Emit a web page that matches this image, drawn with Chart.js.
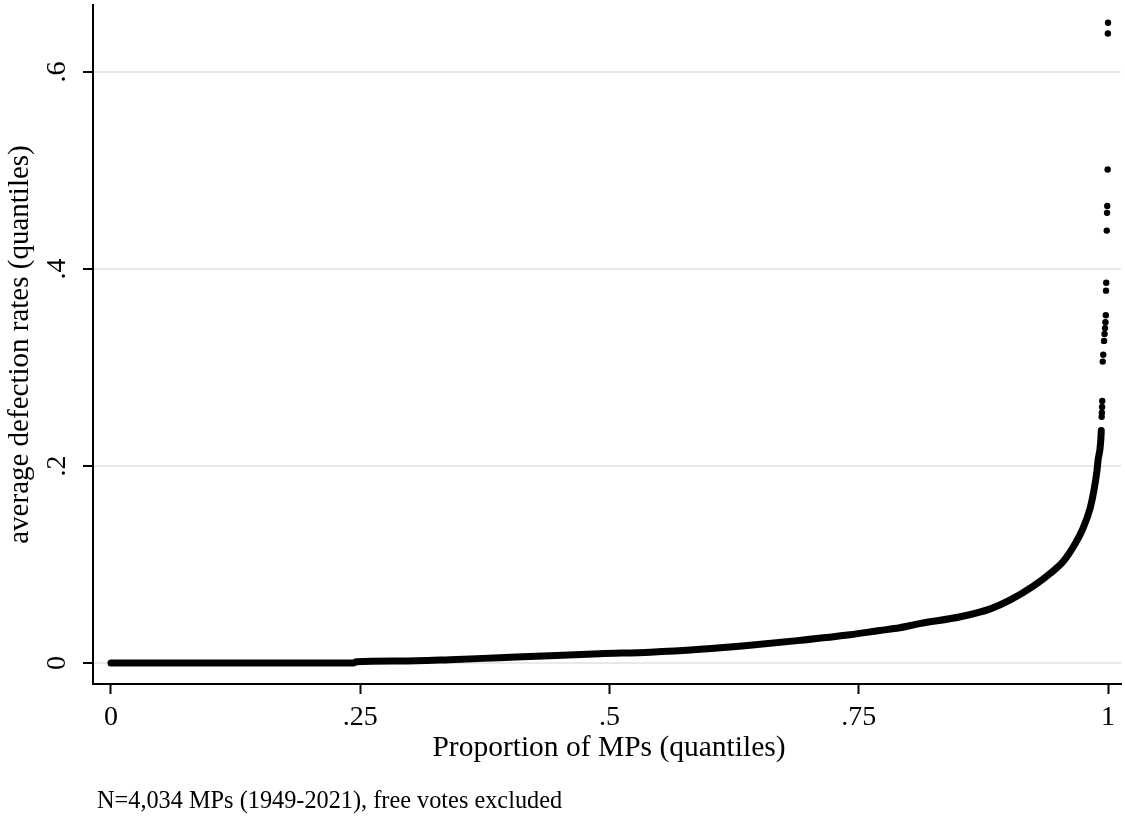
<!DOCTYPE html>
<html>
<head>
<meta charset="utf-8">
<title>Average defection rates by MP quantile</title>
<script src="https://cdn.jsdelivr.net/npm/chart.js@4/dist/chart.umd.min.js"></script>
<style>
  html, body { margin: 0; padding: 0; background: #ffffff; }
  #wrap { width: 1125px; height: 816px; }
</style>
</head>
<body>
<div id="wrap"><canvas id="chart" width="1125" height="816"></canvas></div>
<script>
// Quantile plot of average defection rates, N = 4,034 MPs.
// Dense body of the distribution (quantile position, defection rate).
const bodyQuantiles = [0, 0.05, 0.10, 0.15, 0.20, 0.243, 0.246, 0.29, 0.34, 0.39, 0.44, 0.49,
  0.541, 0.591, 0.641, 0.691, 0.741, 0.771, 0.791, 0.811, 0.852, 0.882, 0.902, 0.925,
  0.942, 0.955, 0.967, 0.975, 0.982, 0.986, 0.989, 0.990, 0.992, 0.993, 0.9932];
const bodyRates = [0, 0, 0, 0, 0, 0, 0.0012, 0.002, 0.0034, 0.0054, 0.0074, 0.0095,
  0.011, 0.0139, 0.018, 0.023, 0.0287, 0.033, 0.0358, 0.040, 0.047, 0.055, 0.064, 0.078,
  0.091, 0.103, 0.121, 0.137, 0.157, 0.176, 0.196, 0.206, 0.218, 0.231, 0.236];

// Sparse upper tail: individual MPs with the highest rates.
const tailQuantiles = [1.0, 0.9998, 0.9996, 0.9992, 0.999, 0.9987, 0.9982, 0.998, 0.9978,
  0.9974, 0.997, 0.9965, 0.996, 0.9952, 0.9947, 0.9942, 0.994, 0.9938, 0.9936];
const tailRates = [0.650, 0.639, 0.501, 0.464, 0.457, 0.439, 0.386, 0.378, 0.353,
  0.346, 0.340, 0.334, 0.327, 0.313, 0.306, 0.266, 0.260, 0.254, 0.250];

// Axis ticks and their Stata-style labels.
const xTicks = [0, 0.25, 0.5, 0.75, 1];
const xTickLabels = ['0', '.25', '.5', '.75', '1'];
const yTicks = [0, 0.2, 0.4, 0.6];
const yTickLabels = ['0', '.2', '.4', '.6'];

const xTitle = 'Proportion of MPs (quantiles)';
const yTitle = 'average defection rates (quantiles)';
const footnote = 'N=4,034 MPs (1949-2021), free votes excluded';

const SERIF = '"Liberation Serif", "Times New Roman", Times, serif';

const bodyPoints = bodyQuantiles.map((q, i) => ({ x: q, y: bodyRates[i] }));
const tailPoints = tailQuantiles.map((q, i) => ({ x: q, y: tailRates[i] }));

// Rotated y tick labels, axis titles and the note below the chart.
const textPlugin = {
  id: 'stataText',
  afterDraw(chart) {
    const ctx = chart.ctx;
    const ys = chart.scales.y;
    const area = chart.chartArea;
    ctx.save();
    ctx.fillStyle = '#000';

    // y tick labels, reading bottom to top
    ctx.font = '28px ' + SERIF;
    ctx.textAlign = 'center';
    ctx.textBaseline = 'middle';
    yTicks.forEach((v, i) => {
      const py = ys.getPixelForValue(v);
      ctx.save();
      ctx.translate(58, py);
      ctx.rotate(-Math.PI / 2);
      ctx.fillText(yTickLabels[i], 0, 0);
      ctx.restore();
    });

    // y axis title
    ctx.save();
    ctx.translate(20, (area.top + area.bottom) / 2);
    ctx.rotate(-Math.PI / 2);
    ctx.font = '29px ' + SERIF;
    ctx.fillText(yTitle, 0, 0);
    ctx.restore();

    // x axis title
    ctx.font = '29.5px ' + SERIF;
    ctx.textAlign = 'center';
    ctx.fillText(xTitle, 609, 748);

    // note
    ctx.font = '24.3px ' + SERIF;
    ctx.textAlign = 'left';
    ctx.fillText(footnote, 97, 802);
    ctx.restore();
  }
};

new Chart(document.getElementById('chart'), {
  type: 'scatter',
  data: {
    datasets: [
      {
        label: 'body',
        data: bodyPoints,
        showLine: true,
        borderColor: '#000',
        borderWidth: 7,
        borderCapStyle: 'round',
        borderJoinStyle: 'round',
        pointRadius: 0,
        cubicInterpolationMode: 'monotone'
      },
      {
        label: 'tail',
        data: tailPoints,
        backgroundColor: '#000',
        borderColor: '#000',
        pointRadius: 3.2,
        pointBorderWidth: 0
      }
    ]
  },
  options: {
    responsive: false,
    animation: false,
    devicePixelRatio: 1,
    layout: { padding: { top: 5, right: 0, bottom: 0, left: 0 } },
    plugins: {
      legend: { display: false },
      tooltip: { enabled: false },
      title: { display: false }
    },
    scales: {
      x: {
        type: 'linear',
        min: -0.01805,
        max: 1.013,
        afterBuildTicks: (scale) => { scale.ticks = xTicks.map(v => ({ value: v })); },
        afterFit: (scale) => { scale.height = 132; },
        grid: {
          drawOnChartArea: false,
          drawTicks: true,
          tickLength: 10,
          tickColor: '#000',
          tickWidth: 2
        },
        border: { display: true, color: '#000', width: 2 },
        ticks: {
          color: '#000',
          font: { family: SERIF, size: 28 },
          padding: 7,
          maxRotation: 0,
          minRotation: 0,
          callback: (value) => {
            const i = xTicks.indexOf(value);
            return i >= 0 ? xTickLabels[i] : '';
          }
        }
      },
      y: {
        type: 'linear',
        min: -0.0213,
        max: 0.668,
        afterBuildTicks: (scale) => { scale.ticks = yTicks.map(v => ({ value: v })); },
        afterFit: (scale) => { scale.width = 93; },
        grid: {
          color: '#e8e8e8',
          lineWidth: 2,
          drawTicks: true,
          tickLength: 10,
          tickColor: '#000',
          tickWidth: 2
        },
        border: { display: true, color: '#000', width: 2 },
        ticks: { display: false }
      }
    }
  },
  plugins: [textPlugin]
});
</script>
</body>
</html>
